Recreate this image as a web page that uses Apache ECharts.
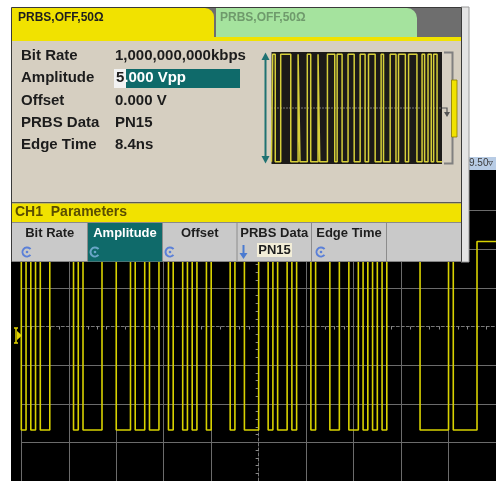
<!DOCTYPE html>
<html><head><meta charset="utf-8">
<script src="https://cdn.jsdelivr.net/npm/echarts@6/dist/echarts.min.js"></script>
<style>html,body{margin:0;padding:0;background:#fff}#c{width:496px;height:481px}</style>
</head><body><div id="c"></div>
<script>
// ---------- texts ----------
const tabTitles = ['PRBS,OFF,50Ω', 'PRBS,OFF,50Ω'];
const paramNames = ['Bit Rate', 'Amplitude', 'Offset', 'PRBS Data', 'Edge Time'];
const paramValues = ['1,000,000,000kbps', '5.000 Vpp', '0.000 V', 'PN15', '8.4ns'];
const barTitle = 'CH1  Parameters';
const softkeyLabels = ['Bit Rate', 'Amplitude', 'Offset', 'PRBS Data', 'Edge Time', ''];
const softkeyValue = 'PN15';
const scaleLabel = '9.50';
// ---------- scope trace (1 Gb/s PRBS, time in ns from screen centre, level in divisions) ----------
const scopeTimeRange = [-50, 50];
const scopeHighLevel = 2.2;
const scopeLowLevel = -2.68;
const scopeLowIntervals = [
  [-50, -49], [-48, -47], [-46, -44], [-39, -38], [-37, -33], [-30, -27], [-26, -24],
  [-23, -21], [-19, -18], [-16, -15], [-14, -13], [-11, -10], [-6, -5], [-3, 0],
  [2, 3], [4, 6], [7, 8], [11, 12], [15, 17], [19, 21], [22, 23], [24, 25], [26, 27],
  [34, 40], [41, 46]
];
// ---------- preview trace (edge positions, % of preview width) ----------
const previewEdges = [0.7, 2.2, 5.4, 11.3, 15.6, 16.7, 21.0, 23.0, 27.3, 28.3, 32.8, 37.1,
  38.5, 41.4, 44.9, 48.5, 52.0, 54.9, 56.9, 60.8, 64.3, 65.7, 69.6, 73.0, 74.5, 78.5,
  80.4, 85.3, 88.3, 89.8, 91.8, 93.7, 95.1, 97.1];
const previewHigh = 0.96;
const previewLow = -0.96;

function lowIntervalTrace(lows, hi, lo, t0, t1) {
  const pts = [[t0, hi]];
  lows.forEach(([a, b]) => { pts.push([a, hi], [a, lo], [b, lo], [b, hi]); });
  pts.push([t1, hi]);
  return pts;
}
function edgeTrace(edges, hi, lo, t0, t1) {
  let lvl = lo;
  const pts = [[t0, lvl]];
  edges.forEach(e => { pts.push([e, lvl]); lvl = (lvl === hi ? lo : hi); pts.push([e, lvl]); });
  pts.push([t1, lvl]);
  return pts;
}

const FONT = '"Liberation Sans", Arial, sans-serif';
const YEL = '#f1e200';
const PZ = 100;
const G = [];
// scope screen background
G.push({ type: 'rect', z: -10, shape: { x: 11, y: 170, width: 485, height: 311 }, style: { fill: '#000' } });
// scale label
G.push({ type: 'rect', z: 50, shape: { x: 466, y: 157, width: 30, height: 13 }, style: { fill: '#b8cce5' } });
G.push({ type: 'text', z: 51, x: 469, y: 163.5, style: { text: scaleLabel + '▿', fill: '#3a3a3a', font: '10px ' + FONT, textVerticalAlign: 'middle' } });
// channel ground marker
G.push({ type: 'polyline', z: 60, shape: { points: [[14, 328], [18, 328], [16, 328], [16, 343], [14, 343], [18, 343]] }, style: { stroke: '#e0d200', lineWidth: 1.5 } });
G.push({ type: 'polygon', z: 60, shape: { points: [[17, 331], [22, 335.5], [17, 340]] }, style: { fill: '#e0d200' } });

// ---------- panel ----------
G.push({ type: 'rect', z: PZ, shape: { x: 461, y: 7, width: 8, height: 255 }, style: { fill: '#e4e4e4', stroke: '#9a9a9a', lineWidth: 1 } });
G.push({ type: 'rect', z: PZ, shape: { x: 11.5, y: 7.5, width: 450, height: 254 }, style: { fill: '#d6cfc1', stroke: '#3a3a3a', lineWidth: 1 } });
G.push({ type: 'rect', z: PZ + 1, shape: { x: 12, y: 8, width: 449, height: 30 }, style: { fill: '#6e6e6e' } });
G.push({ type: 'rect', z: PZ + 2, shape: { x: 216, y: 8, width: 201, height: 31, r: [0, 10, 0, 0] }, style: { fill: '#a5e39e' } });
G.push({ type: 'rect', z: PZ + 2, shape: { x: 12, y: 8, width: 202, height: 31, r: [0, 9, 0, 0] }, style: { fill: YEL } });
G.push({ type: 'rect', z: PZ + 3, shape: { x: 12, y: 37, width: 449, height: 4 }, style: { fill: YEL } });
G.push({ type: 'text', z: PZ + 4, x: 18, y: 18, style: { text: tabTitles[0], fill: '#1e1e1e', font: 'bold 12px ' + FONT, textVerticalAlign: 'middle' } });
G.push({ type: 'text', z: PZ + 4, x: 220, y: 18, style: { text: tabTitles[1], fill: '#6f9a6c', font: 'bold 12px ' + FONT, textVerticalAlign: 'middle' } });

// parameter rows
const rowY0 = 56, rowDy = 22.3;
G.push({ type: 'rect', z: PZ + 3, shape: { x: 114, y: 69, width: 126, height: 19 }, style: { fill: '#0f6a6a' } });
G.push({ type: 'rect', z: PZ + 4, shape: { x: 114, y: 69, width: 12, height: 19 }, style: { fill: '#f2f2f2' } });
paramNames.forEach((n, i) => {
  G.push({ type: 'text', z: PZ + 5, x: 21, y: rowY0 + i * rowDy, style: { text: n, fill: '#1c1c1c', font: 'bold 15px ' + FONT, textVerticalAlign: 'middle' } });
  const v = paramValues[i];
  if (i === 1) {
    G.push({ type: 'text', z: PZ + 5, x: 116, y: rowY0 + i * rowDy, style: {
      text: '{c|' + v.charAt(0) + '}{w|' + v.slice(1) + '}', font: 'bold 15px ' + FONT, textVerticalAlign: 'middle',
      rich: { c: { fill: '#1c1c1c', font: 'bold 15px ' + FONT }, w: { fill: '#ffffff', font: 'bold 15px ' + FONT } } } });
  } else {
    G.push({ type: 'text', z: PZ + 5, x: 115, y: rowY0 + i * rowDy, style: { text: v, fill: '#1c1c1c', font: 'bold 15px ' + FONT, textVerticalAlign: 'middle' } });
  }
});

// preview frame
G.push({ type: 'rect', z: PZ + 10, shape: { x: 271.5, y: 52, width: 170.5, height: 112 }, style: { fill: '#1c1a18' } });
G.push({ type: 'line', z: PZ + 11, shape: { x1: 271.5, y1: 108, x2: 447, y2: 108 }, style: { stroke: '#d8d8d8', lineWidth: 1, lineDash: [1, 2] } });
G.push({ type: 'polyline', z: PZ + 11, shape: { points: [[442, 108], [447, 108], [447, 112]] }, style: { stroke: '#555', lineWidth: 1.2 } });
G.push({ type: 'polygon', z: PZ + 11, shape: { points: [[444, 112], [450, 112], [447, 117]] }, style: { fill: '#555' } });
G.push({ type: 'line', z: PZ + 11, shape: { x1: 265.5, y1: 56, x2: 265.5, y2: 160 }, style: { stroke: '#1f7272', lineWidth: 2 } });
G.push({ type: 'polygon', z: PZ + 11, shape: { points: [[261.5, 60], [265.5, 52.5], [269.5, 60]] }, style: { fill: '#1f7272' } });
G.push({ type: 'polygon', z: PZ + 11, shape: { points: [[261.5, 156], [265.5, 163.5], [269.5, 156]] }, style: { fill: '#1f7272' } });
G.push({ type: 'polyline', z: PZ + 11, shape: { points: [[444, 52.5], [452.5, 52.5], [452.5, 163.5], [444, 163.5]] }, style: { stroke: '#808080', lineWidth: 2 } });
G.push({ type: 'rect', z: PZ + 12, shape: { x: 451.5, y: 80, width: 5.5, height: 57 }, style: { fill: YEL, stroke: '#8c7c00', lineWidth: 0.8 } });

// CH1 bar
G.push({ type: 'rect', z: PZ + 3, shape: { x: 12, y: 202, width: 449, height: 1.5 }, style: { fill: '#5a5a5a' } });
G.push({ type: 'rect', z: PZ + 3, shape: { x: 12, y: 203.5, width: 449, height: 18.5 }, style: { fill: YEL } });
G.push({ type: 'text', z: PZ + 4, x: 15, y: 212.5, style: { text: barTitle, fill: '#5a4d00', font: 'bold 14px ' + FONT, textVerticalAlign: 'middle' } });

// softkeys
const keyEdges = [12, 87.5, 162.5, 237, 311.5, 386.5, 461];
G.push({ type: 'rect', z: PZ + 3, shape: { x: 12, y: 222, width: 449, height: 39.5 }, style: { fill: '#c9c9c9' } });
G.push({ type: 'rect', z: PZ + 3, shape: { x: 12, y: 222, width: 449, height: 1 }, style: { fill: '#8a8a8a' } });
G.push({ type: 'rect', z: PZ + 4, shape: { x: 88, y: 223, width: 74.5, height: 38.5 }, style: { fill: '#0f6a6a' } });
for (let i = 1; i < keyEdges.length - 1; i++) {
  G.push({ type: 'line', z: PZ + 5, shape: { x1: keyEdges[i], y1: 223, x2: keyEdges[i], y2: 261 }, style: { stroke: '#8c8c8c', lineWidth: 1 } });
}
softkeyLabels.forEach((t, i) => {
  if (!t) return;
  const cx = (keyEdges[i] + keyEdges[i + 1]) / 2;
  G.push({ type: 'text', z: PZ + 6, x: cx, y: 233, style: { text: t, fill: i === 1 ? '#ffffff' : '#1e1e1e', font: 'bold 13px ' + FONT, textAlign: 'center', textVerticalAlign: 'middle' } });
});
[[27, '#5b80d8'], [95, '#6aa6c8'], [170, '#5b80d8'], [321, '#5b80d8']].forEach(([x, c]) => {
  G.push({ type: 'arc', z: PZ + 6, shape: { cx: x, cy: 252, r: 4.5, startAngle: 0.7, endAngle: 5.6 }, style: { stroke: c, lineWidth: 2, fill: null } });
  G.push({ type: 'circle', z: PZ + 6, shape: { cx: x, cy: 252, r: 1.3 }, style: { fill: c } });
});
G.push({ type: 'line', z: PZ + 6, shape: { x1: 243.5, y1: 245, x2: 243.5, y2: 256 }, style: { stroke: '#4a7ad0', lineWidth: 2 } });
G.push({ type: 'polygon', z: PZ + 6, shape: { points: [[239.5, 253], [247.5, 253], [243.5, 259]] }, style: { fill: '#4a7ad0' } });
G.push({ type: 'rect', z: PZ + 6, shape: { x: 257, y: 243, width: 35, height: 14 }, style: { fill: '#f3eed8' } });
G.push({ type: 'text', z: PZ + 7, x: 274.5, y: 250.5, style: { text: softkeyValue, fill: '#1e1e1e', font: 'bold 13px ' + FONT, textAlign: 'center', textVerticalAlign: 'middle' } });

const gridColor = '#6b6b6b';
const xSplitColors = []; for (let i = 0; i <= 10; i++) xSplitColors.push(i === 5 ? 'rgba(0,0,0,0)' : gridColor);
const ySplitColors = []; for (let i = 0; i <= 8; i++) ySplitColors.push(i === 4 ? 'rgba(0,0,0,0)' : gridColor);

const chart = echarts.init(document.getElementById('c'), null, { renderer: 'canvas' });
chart.setOption({
  backgroundColor: '#ffffff',
  animation: false,
  grid: [
    { left: 21.3, top: 172, width: 486, height: 311, containLabel: false },
    { left: 271.5, top: 52, width: 170.5, height: 112, containLabel: false }
  ],
  xAxis: [
    { gridIndex: 0, type: 'value', min: scopeTimeRange[0], max: scopeTimeRange[1], interval: 10,
      axisLabel: { show: false }, axisTick: { show: false },
      axisLine: { show: true, onZero: true, lineStyle: { color: '#777', width: 1, type: [3, 2] } },
      minorTick: { show: true, splitNumber: 5, length: 3, lineStyle: { color: '#8a8a8a' } },
      splitLine: { show: true, lineStyle: { color: xSplitColors, width: 1 } } },
    { gridIndex: 1, type: 'value', min: 0, max: 100, show: false }
  ],
  yAxis: [
    { gridIndex: 0, type: 'value', min: -4, max: 4, interval: 1,
      axisLabel: { show: false }, axisTick: { show: false },
      axisLine: { show: true, onZero: true, lineStyle: { color: '#777', width: 1, type: [3, 2] } },
      minorTick: { show: true, splitNumber: 5, length: 3, lineStyle: { color: '#8a8a8a' } },
      splitLine: { show: true, showMaxLine: false, lineStyle: { color: ySplitColors, width: 1 } } },
    { gridIndex: 1, type: 'value', min: -1, max: 1, show: false }
  ],
  series: [
    { type: 'line', xAxisIndex: 0, yAxisIndex: 0, z: 5, showSymbol: false, symbol: 'none',
      data: lowIntervalTrace(scopeLowIntervals, scopeHighLevel, scopeLowLevel, scopeTimeRange[0], scopeTimeRange[1]),
      lineStyle: { color: '#d8d200', width: 1.6 }, silent: true },
    { type: 'line', xAxisIndex: 1, yAxisIndex: 1, z: PZ + 20, showSymbol: false, symbol: 'none',
      data: edgeTrace(previewEdges, previewHigh, previewLow, 0, 100),
      lineStyle: { color: '#d6cf3a', width: 1.5 }, silent: true }
  ],
  graphic: { elements: G }
});
</script>
</body></html>
